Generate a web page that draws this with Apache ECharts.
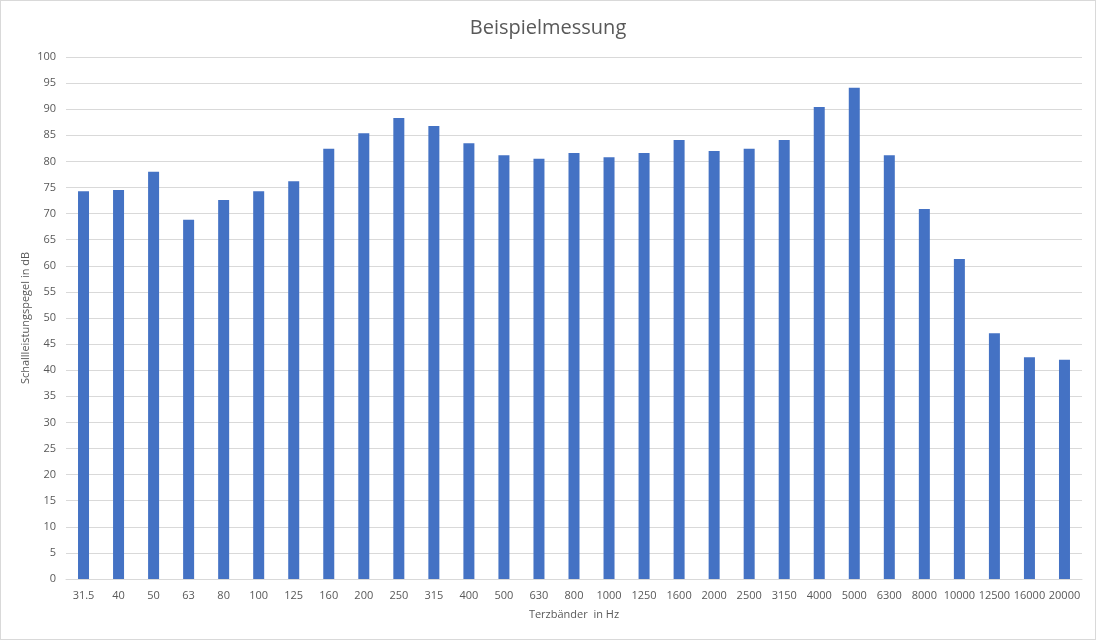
<!DOCTYPE html>
<html>
<head>
<meta charset="utf-8">
<script src="https://cdn.jsdelivr.net/npm/echarts@6/dist/echarts.min.js"></script>
<style>
html,body{margin:0;padding:0;background:#fff;}
#c{width:1096px;height:640px;box-sizing:border-box;border:1px solid #d9d9d9;}
</style>
</head>
<body>
<div id="c"></div>
<script>
const titleText = 'Beispielmessung';
const categories = ['31.5','40','50','63','80','100','125','160','200','250','315','400','500','630','800','1000','1250','1600','2000','2500','3150','4000','5000','6300','8000','10000','12500','16000','20000'];
const values = [74.3,74.5,78.0,68.8,72.6,74.3,76.2,82.4,85.4,88.3,86.8,83.5,81.2,80.5,81.6,80.8,81.6,84.1,82.0,82.4,84.1,90.4,94.1,81.2,70.9,61.3,47.1,42.5,42.0];
const yAxisName = 'Schallleistungspegel in dB';
const xAxisName = 'Terzbänder  in Hz';

const font = 'Open Sans, Noto Sans, sans-serif';
const chart = echarts.init(document.getElementById('c'));
chart.setOption({
  animation: false,
  title: {text: titleText, left: 'center', top: 12,
    textStyle: {fontFamily: font, fontSize: 20, fontWeight: 'normal', color: '#595959'}},
  grid: {left: 65, right: 13, top: 56, bottom: 60},
  xAxis: {
    type: 'category', data: categories,
    name: xAxisName, nameLocation: 'middle', nameGap: 30,
    nameTextStyle: {fontFamily: font, fontSize: 11, color: '#595959'},
    axisLine: {lineStyle: {color: '#d9d9d9'}},
    axisTick: {show: false},
    axisLabel: {fontFamily: font, fontSize: 11, color: '#595959', margin: 11, interval: 0}
  },
  yAxis: {
    type: 'value', min: 0, max: 100, interval: 5,
    name: yAxisName, nameLocation: 'middle', nameGap: 35, nameMoveOverlap: false,
    nameTextStyle: {fontFamily: font, fontSize: 11, color: '#595959', padding: 0},
    axisLine: {show: false}, axisTick: {show: false},
    axisLabel: {fontFamily: font, fontSize: 11, color: '#595959', margin: 10},
    splitLine: {lineStyle: {color: '#d9d9d9', width: 1}}
  },
  series: [{type: 'bar', data: values, barWidth: 11, itemStyle: {color: '#4472C4'}}]
});
</script>
</body>
</html>
